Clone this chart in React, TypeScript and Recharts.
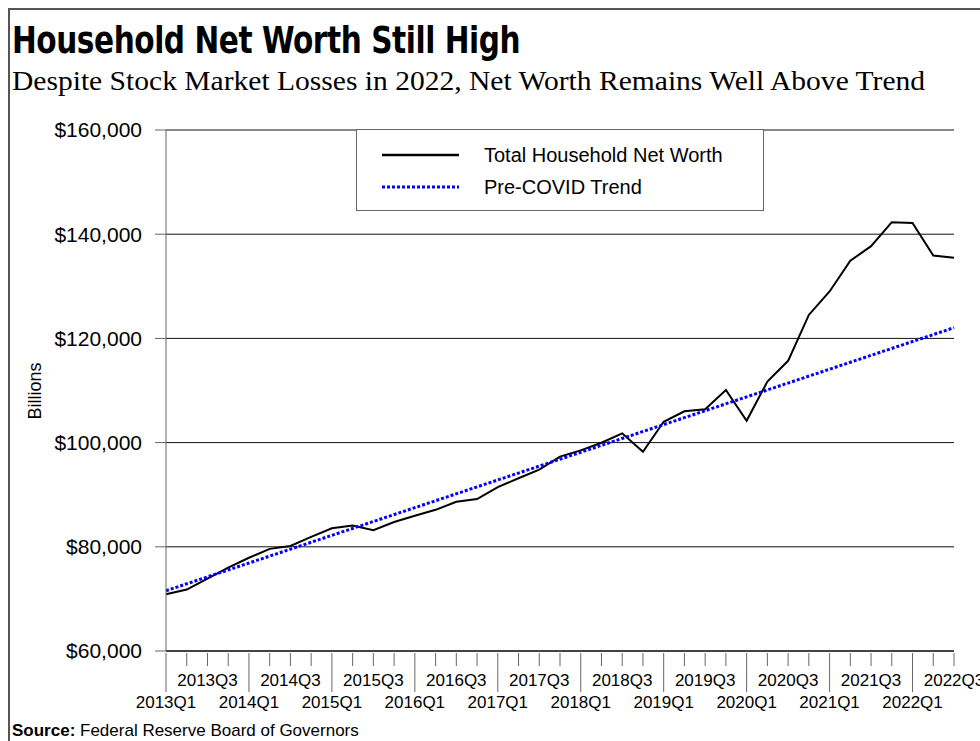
import React from 'react';
import { LineChart, Line, XAxis, YAxis, CartesianGrid, Legend } from 'recharts';

// quarters on the category axis
const quarters = [
  '2013Q1', '2013Q2', '2013Q3', '2013Q4',
  '2014Q1', '2014Q2', '2014Q3', '2014Q4',
  '2015Q1', '2015Q2', '2015Q3', '2015Q4',
  '2016Q1', '2016Q2', '2016Q3', '2016Q4',
  '2017Q1', '2017Q2', '2017Q3', '2017Q4',
  '2018Q1', '2018Q2', '2018Q3', '2018Q4',
  '2019Q1', '2019Q2', '2019Q3', '2019Q4',
  '2020Q1', '2020Q2', '2020Q3', '2020Q4',
  '2021Q1', '2021Q2', '2021Q3', '2021Q4',
  '2022Q1', '2022Q2', '2022Q3',
];

// total household net worth, billions of dollars
const netWorth = [
  70900, 71800, 73900, 76000,
  77900, 79600, 80150, 81900,
  83550, 84080, 83200, 84760,
  85950, 87100, 88630, 89170,
  91450, 93150, 94800, 97300,
  98500, 99980, 101780, 98250,
  104000, 106000, 106400, 110100,
  104200, 111700, 115700, 124500,
  129000, 134900, 137700, 142300,
  142150, 135900, 135500,
];

const trendStart = 71570;
const trendEnd = 122060;

const yTicks = [60000, 80000, 100000, 120000, 140000, 160000];

const data = quarters.map((q, i) => ({
  q,
  netWorth: netWorth[i],
  trend: i === 0 ? trendStart : i === quarters.length - 1 ? trendEnd : null,
}));

const SANS = '"Liberation Sans", Arial, sans-serif';

function fmtDollar(v: number): string {
  return '$' + v.toLocaleString('en-US');
}

// excel-style category ticks: short mark each quarter, long mark at Q1,
// labels on every 2nd quarter in two alternating rows
const QuarterTick = (props: any) => {
  const { x, y, index, payload } = props;
  const idx = index ?? payload?.index ?? 0;
  const isQ1 = idx % 4 === 0;
  const len = isQ1 ? 39 : 13;
  let label: React.ReactNode = null;
  if (idx % 2 === 0) {
    const row = idx % 4 === 0 ? 55 : 33;
    label = (
      <text x={x} y={y + row} textAnchor="middle" fontSize={17} fontFamily={SANS} fill="#000">
        {payload.value}
      </text>
    );
  }
  return (
    <g>
      <line x1={x} y1={y} x2={x} y2={y + len} stroke="#666" strokeWidth={1} />
      {label}
    </g>
  );
};

const LegendBox = () => (
  <div
    style={{
      width: 406,
      height: 80,
      border: '1px solid #666',
      background: '#fff',
      fontFamily: SANS,
      fontSize: 20,
      color: '#000',
      position: 'relative',
      textAlign: 'left',
    }}
  >
    <svg width={110} height={80} style={{ position: 'absolute', left: 0, top: 0 }}>
      <line x1={25} y1={25} x2={102} y2={25} stroke="#000" strokeWidth={2.5} />
      <line x1={25} y1={57} x2={102} y2={57} stroke="#0000ff" strokeWidth={3} strokeDasharray="3 2" />
    </svg>
    <div style={{ position: 'absolute', left: 127, top: 13, lineHeight: '24px', whiteSpace: 'nowrap' }}>
      Total Household Net Worth
    </div>
    <div style={{ position: 'absolute', left: 127, top: 45, lineHeight: '24px', whiteSpace: 'nowrap' }}>
      Pre-COVID Trend
    </div>
  </div>
);

export default function App() {
  return (
    <div style={{ position: 'relative', width: 980, height: 741, background: '#fff', overflow: 'hidden' }}>
      <style>{'body{margin:0}'}</style>
      <div
        style={{
          position: 'absolute',
          left: 8,
          top: 8,
          width: 980,
          height: 741,
          borderTop: '2px solid #555',
          borderLeft: '2px solid #555',
        }}
      />
      <div
        style={{
          position: 'absolute',
          left: 12,
          top: 20,
          fontFamily: '"Liberation Sans Narrow", "DejaVu Sans Condensed", sans-serif',
          fontWeight: 700,
          fontSize: 38,
          lineHeight: '40px',
          color: '#000',
          whiteSpace: 'nowrap',
          letterSpacing: -0.5,
          transform: 'scaleX(0.865)',
          transformOrigin: 'left top',
        }}
      >
        Household Net Worth Still High
      </div>
      <div
        style={{
          position: 'absolute',
          left: 12,
          top: 64,
          fontFamily: '"Liberation Serif", "DejaVu Serif", serif',
          fontSize: 28,
          lineHeight: '34px',
          color: '#000',
          whiteSpace: 'nowrap',
          transform: 'scaleX(1.055)',
          transformOrigin: 'left top',
        }}
      >
        Despite Stock Market Losses in 2022, Net Worth Remains Well Above Trend
      </div>
      <div
        style={{
          position: 'absolute',
          left: 35,
          top: 391,
          transform: 'translate(-50%, -50%) rotate(-90deg)',
          fontFamily: SANS,
          fontSize: 18,
          color: '#000',
          whiteSpace: 'nowrap',
        }}
      >
        Billions
      </div>
      <div style={{ position: 'absolute', left: 0, top: 0 }}>
        <LineChart width={980} height={741} data={data} margin={{ top: 130, right: 26, left: 0, bottom: 0 }}>
          <CartesianGrid horizontal vertical={false} stroke="#111" strokeWidth={1} />
          <XAxis
            dataKey="q"
            interval={0}
            height={90}
            tickSize={0}
            tickLine={false}
            axisLine={{ stroke: '#000' }}
            tick={<QuarterTick />}
          />
          <YAxis
            width={166}
            domain={[60000, 160000]}
            ticks={yTicks}
            tickFormatter={fmtDollar}
            tickSize={11}
            tickMargin={13}
            tick={{ fill: '#000', fontSize: 21, fontFamily: SANS }}
            tickLine={{ stroke: '#666' }}
            axisLine={{ stroke: '#666' }}
          />
          <Legend
            layout="horizontal"
            verticalAlign="middle"
            align="center"
            content={<LegendBox />}
            wrapperStyle={{ position: 'absolute', left: 356, top: 129, width: 408, height: 82 }}
          />
          <Line
            type="linear"
            dataKey="netWorth"
            stroke="#000"
            strokeWidth={2}
            dot={false}
            isAnimationActive={false}
          />
          <Line
            type="linear"
            dataKey="trend"
            stroke="#0000ff"
            strokeWidth={3}
            strokeDasharray="3 2"
            connectNulls
            dot={false}
            isAnimationActive={false}
          />
        </LineChart>
      </div>
      <div
        style={{
          position: 'absolute',
          left: 12,
          top: 721,
          fontFamily: SANS,
          fontSize: 17,
          lineHeight: '20px',
          color: '#000',
          whiteSpace: 'nowrap',
        }}
      >
        <b>Source:</b> Federal Reserve Board of Governors
      </div>
    </div>
  );
}
